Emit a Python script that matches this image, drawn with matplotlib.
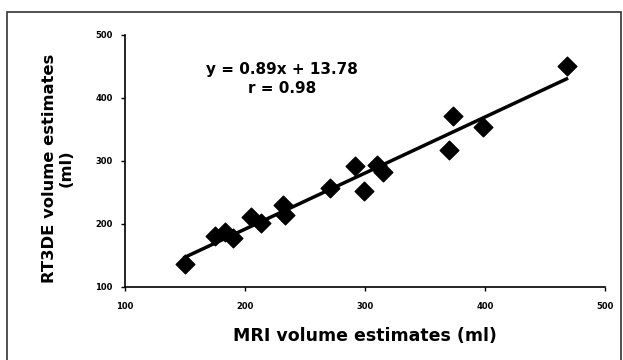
import matplotlib
matplotlib.use("Agg")
import matplotlib.pyplot as plt
import numpy as np

# MRI vs RT3DE volume estimates (ml)
mri = [150, 175, 183, 190, 205, 213, 232, 233, 271, 292, 299, 310, 315, 370, 373, 398, 468]
rt3de = [137, 181, 188, 177, 211, 202, 230, 214, 257, 292, 252, 294, 283, 317, 372, 354, 450]

slope = 0.89
intercept = 13.78
r_value = 0.98

x_ticks = [100, 200, 300, 400, 500]
y_ticks = [100, 200, 300, 400, 500]

plt.rcParams['font.family'] = ['DejaVu Sans']

fig = plt.figure(figsize=(6.23, 3.6), dpi=100)
ax = fig.add_axes([0.2006, 0.2028, 0.7704, 0.70])

ax.scatter(mri, rt3de, marker='D', s=90, color='black', zorder=3)

# trend line from the equation shown on the chart
xfit = np.array([min(mri), max(mri)])
ax.plot(xfit, slope * xfit + intercept, color='black', lw=2.5, zorder=2)

ax.set_xlim(100, 500)
ax.set_ylim(100, 500)
ax.set_xticks(x_ticks)
ax.set_yticks(y_ticks)
ax.tick_params(axis='both', direction='out', length=3, width=1, labelsize=6, pad=6)
for lab in ax.get_xticklabels() + ax.get_yticklabels():
    lab.set_fontweight('bold')
ax.tick_params(axis='x', pad=8)

for side in ['top', 'right']:
    ax.spines[side].set_visible(False)
for side in ['left', 'bottom']:
    ax.spines[side].set_linewidth(1.2)

ax.set_xlabel('MRI volume estimates (ml)', fontsize=12.5, fontweight='bold', labelpad=11)
ax.set_ylabel('RT3DE volume estimates\n(ml)', fontsize=11.8, fontweight='bold',
              linespacing=1.15)
ax.yaxis.set_label_coords(-0.106, 0.47)

ax.text(0.327, 0.825, f'y = {slope}x + {intercept}\nr = {r_value}', transform=ax.transAxes,
        ha='center', va='center', fontsize=11, fontweight='bold', linespacing=1.3)

# outer frame of the figure
frame = plt.Rectangle((0.011, -0.1), 0.985, 1.067, transform=fig.transFigure,
                      fill=False, edgecolor='#333333', lw=1.2)
fig.patches.append(frame)

fig.savefig('out.png', dpi=100)
